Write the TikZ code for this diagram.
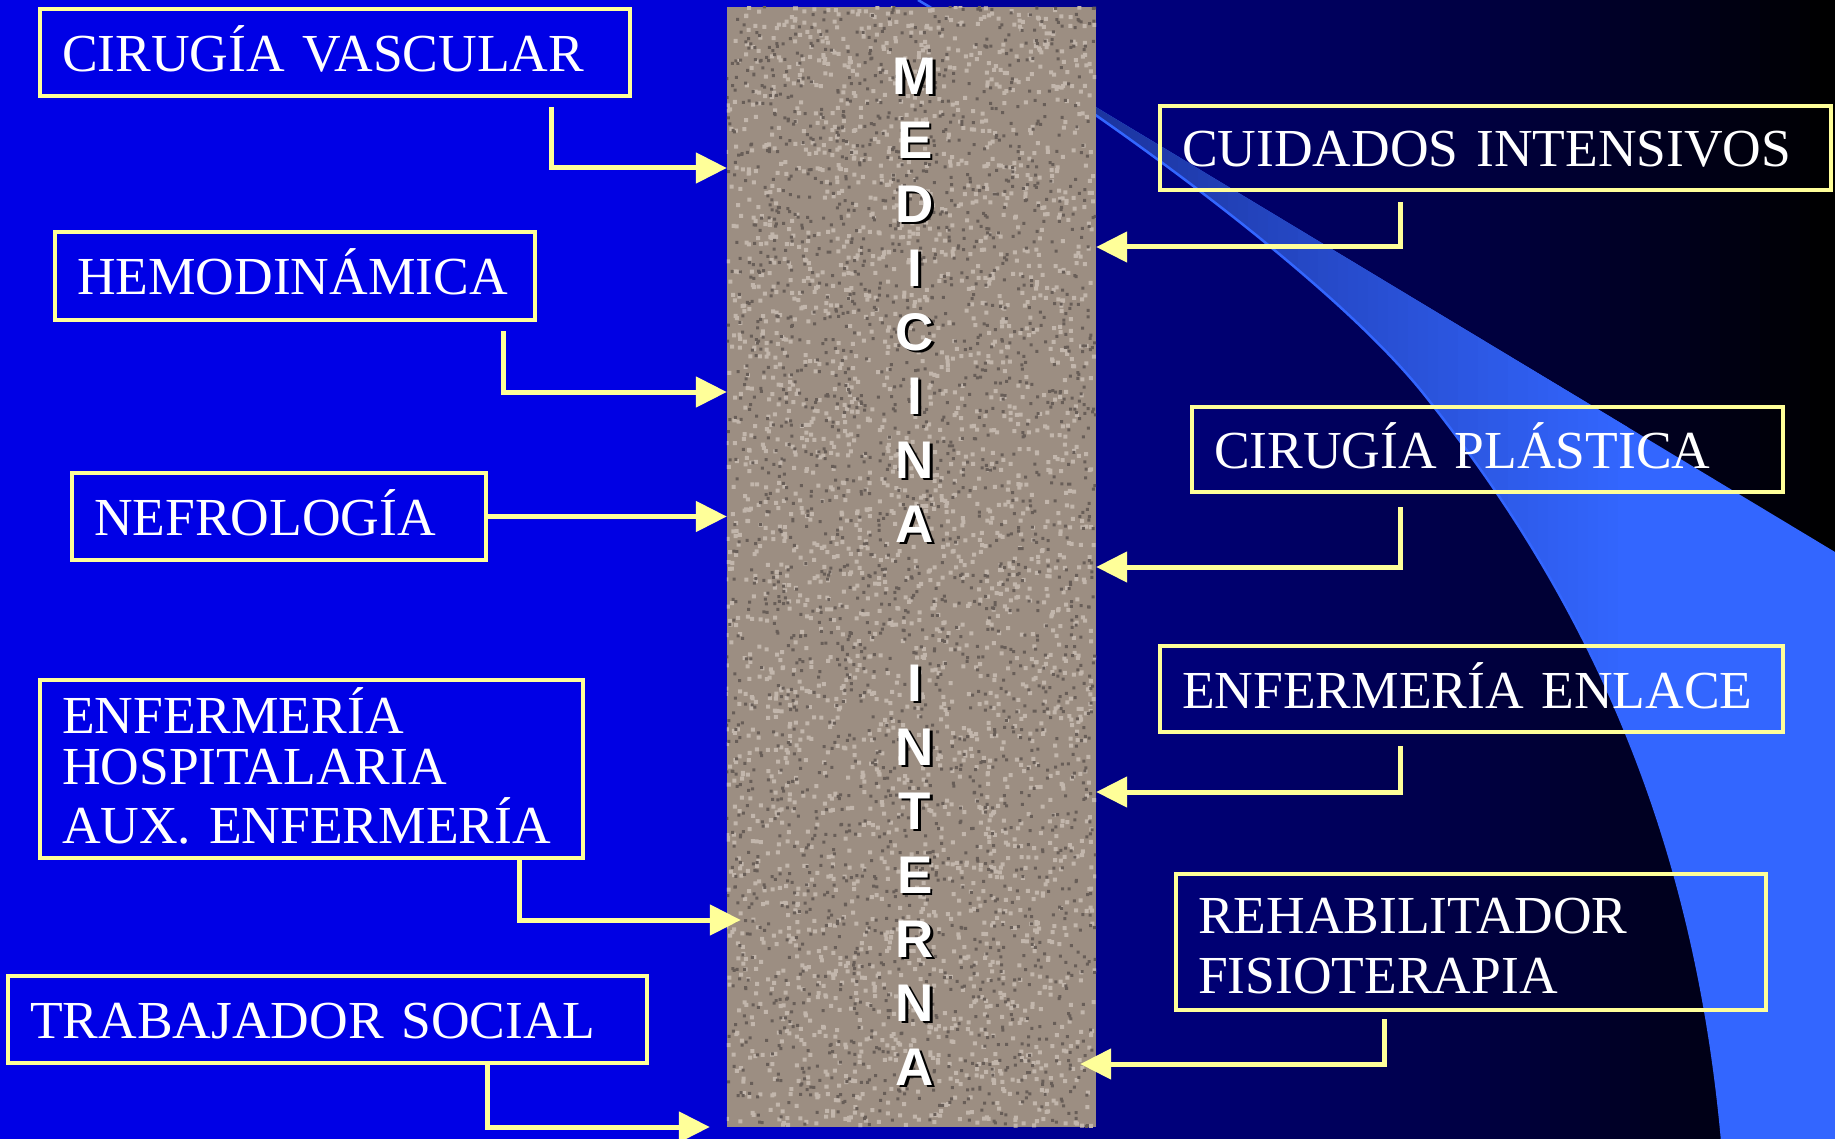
\documentclass[tikz,border=0pt]{standalone}
\usepackage{fontspec}
\setmainfont{Liberation Serif}
\newfontfamily\barfont{Liberation Sans}
\usetikzlibrary{arrows.meta,calc}

\definecolor{bgblue}{RGB}{0,0,230}
\definecolor{swoop}{RGB}{51,102,255}
\definecolor{swoopdark}{RGB}{20,36,128}
\definecolor{boxyellow}{RGB}{255,255,153}
\definecolor{granite}{RGB}{156,142,130}
\definecolor{grlight}{RGB}{194,182,172}
\definecolor{grdark}{RGB}{104,94,88}

\newcommand\boxfont{\fontsize{53.5}{51.5}\selectfont}
\newcommand\barletter{\barfont\bfseries\fontsize{53}{53}\selectfont}

\tikzset{
  box/.style={draw=boxyellow, line width=4.5pt, text=white, font=\boxfont, inner xsep=22pt, inner ysep=0pt, align=left, text height=38pt, text depth=0pt},
  link/.style={draw=boxyellow, line width=5pt, -{Triangle[length=31pt,width=30pt]}},
  letter/.style={text=white, font=\barletter, inner sep=0pt},
  lettershadow/.style={text=black, font=\barletter, inner sep=0pt}
}

\begin{document}
\begin{tikzpicture}[x=1pt,y=-1pt]
\useasboundingbox (0,0) rectangle (1835,1139);

% background, blue to black in strips
\fill[bgblue] (0,0) rectangle (601,1139);
\foreach \i in {0,...,123}{
  \pgfmathtruncatemacro\pct{100-\i*100/123}
  \fill[bgblue!\pct!black] (600+10*\i,0) rectangle ++(11,1139);
}

% light swoosh
\coordinate (sw0) at (918,0);
\coordinate (sw1) at (1835,552);
\coordinate (sw2) at (1835,1139);
\coordinate (sw3) at (1722,1139);
\coordinate (swm) at (1423,393);
\fill[swoop] (sw0) -- (sw1) -- (sw2) -- (sw3) .. controls (1692,809) and (1573,581) .. (swm)
  .. controls (1330,277) and (1090,102) .. (sw0) -- cycle;
\begin{scope}
\clip (sw0) -- (sw1) -- (sw2) -- (sw3) .. controls (1692,809) and (1573,581) .. (swm)
  .. controls (1330,277) and (1090,102) .. (sw0) -- cycle;
\foreach \i in {0,...,70}{
  \pgfmathtruncatemacro\pct{\i*100/70}
  \fill[swoop!\pct!swoopdark] (918+10*\i,0) rectangle ++(11,1139);
}
\end{scope}
\draw[swoop, line width=2.5pt] (sw0) .. controls (1090,102) and (1330,277) .. (swm) .. controls (1573,581) and (1692,809) .. (sw3);

% central bar
\node[fill=granite, minimum width=369pt, minimum height=1120pt, inner sep=0pt] (mi) at (911.5,567) {};
\begin{scope}
\clip (mi.south west) rectangle (mi.north east);
\pgfmathsetseed{7}
\fill[grlight] \foreach \k in {1,...,3000}{(724+369*rnd, 4+1120*rnd) rectangle ++(4,4)};
\fill[grdark] \foreach \k in {1,...,2500}{(725+369*rnd, 5+1120*rnd) rectangle ++(3,3)};
\end{scope}

\foreach \ch/\yy [count=\i] in {M/76,E/140,D/204,I/268,C/332,I/396,N/460,A/524,I/683,N/747,T/811,E/875,R/939,N/1003,A/1067}{
  \node[lettershadow] (s\i) at (917.5,\yy+2.5) {\ch};
  \node[letter] (l\i) at (915,\yy) {\ch};
}

% left boxes
\node[box, minimum width=590pt, text width=546pt, minimum height=87pt] (cv) at (335,52.5) {CIRUGÍA VASCULAR};
\node[box, minimum width=480pt, text width=436pt, minimum height=88pt] (hemo) at (295,276) {HEMODINÁMICA};
\node[box, minimum width=414pt, text width=370pt, minimum height=87pt] (nefro) at (279,516.5) {NEFROLOGÍA};
\node[box, minimum width=543pt, text width=499pt, minimum height=178pt, text depth=110pt] (enf) at (311.5,769) {ENFERMERÍA\\HOSPITALARIA\\[7pt]AUX. ENFERMERÍA};
\node[box, minimum width=639pt, text width=595pt, minimum height=87pt] (trab) at (327.5,1019.5) {TRABAJADOR SOCIAL};

% right boxes
\node[box, minimum width=671pt, text width=627pt, minimum height=84pt] (cuid) at (1495.5,148) {CUIDADOS INTENSIVOS};
\node[box, minimum width=591pt, text width=547pt, minimum height=85pt] (plast) at (1487.5,449.5) {CIRUGÍA PLÁSTICA};
\node[box, minimum width=623pt, text width=579pt, minimum height=86pt] (enl) at (1471.5,689) {ENFERMERÍA ENLACE};
\node[box, minimum width=590pt, text width=546pt, minimum height=136pt, text depth=55pt] (rehab) at (1471,942) {REHABILITADOR\\[8.5pt]FISIOTERAPIA};

% arrows
\coordinate (b1) at (551,168);
\coordinate (b2) at (503,392);
\coordinate (b4) at (519,920);
\coordinate (b5) at (487,1127);
\coordinate (b6) at (1400,247);
\coordinate (b7) at (1400,567);
\coordinate (b8) at (1400,792);
\coordinate (b9) at (1384,1064);

\draw[link, shorten <=9pt] (cv.south -| b1) -- (b1) -- (b1 -| mi.west);
\draw[link, shorten <=9pt] (hemo.south -| b2) -- (b2) -- (b2 -| mi.west);
\draw[link] (nefro.east) -- (nefro.east -| mi.west);
\draw[link] (enf.south -| b4) -- (b4) -- ($(b4 -| mi.west)+(14,0)$);
\draw[link] (trab.south -| b5) -- (b5) -- ($(b5 -| mi.west)+(-17,0)$);

\draw[link, shorten <=10pt] (cuid.south -| b6) -- (b6) -- (b6 -| mi.east);
\draw[link, shorten <=13pt] (plast.south -| b7) -- (b7) -- (b7 -| mi.east);
\draw[link, shorten <=12pt] (enl.south -| b8) -- (b8) -- (b8 -| mi.east);
\draw[link, shorten <=7pt] (rehab.south -| b9) -- (b9) -- ($(b9 -| mi.east)+(-16,0)$);
\end{tikzpicture}
\end{document}
